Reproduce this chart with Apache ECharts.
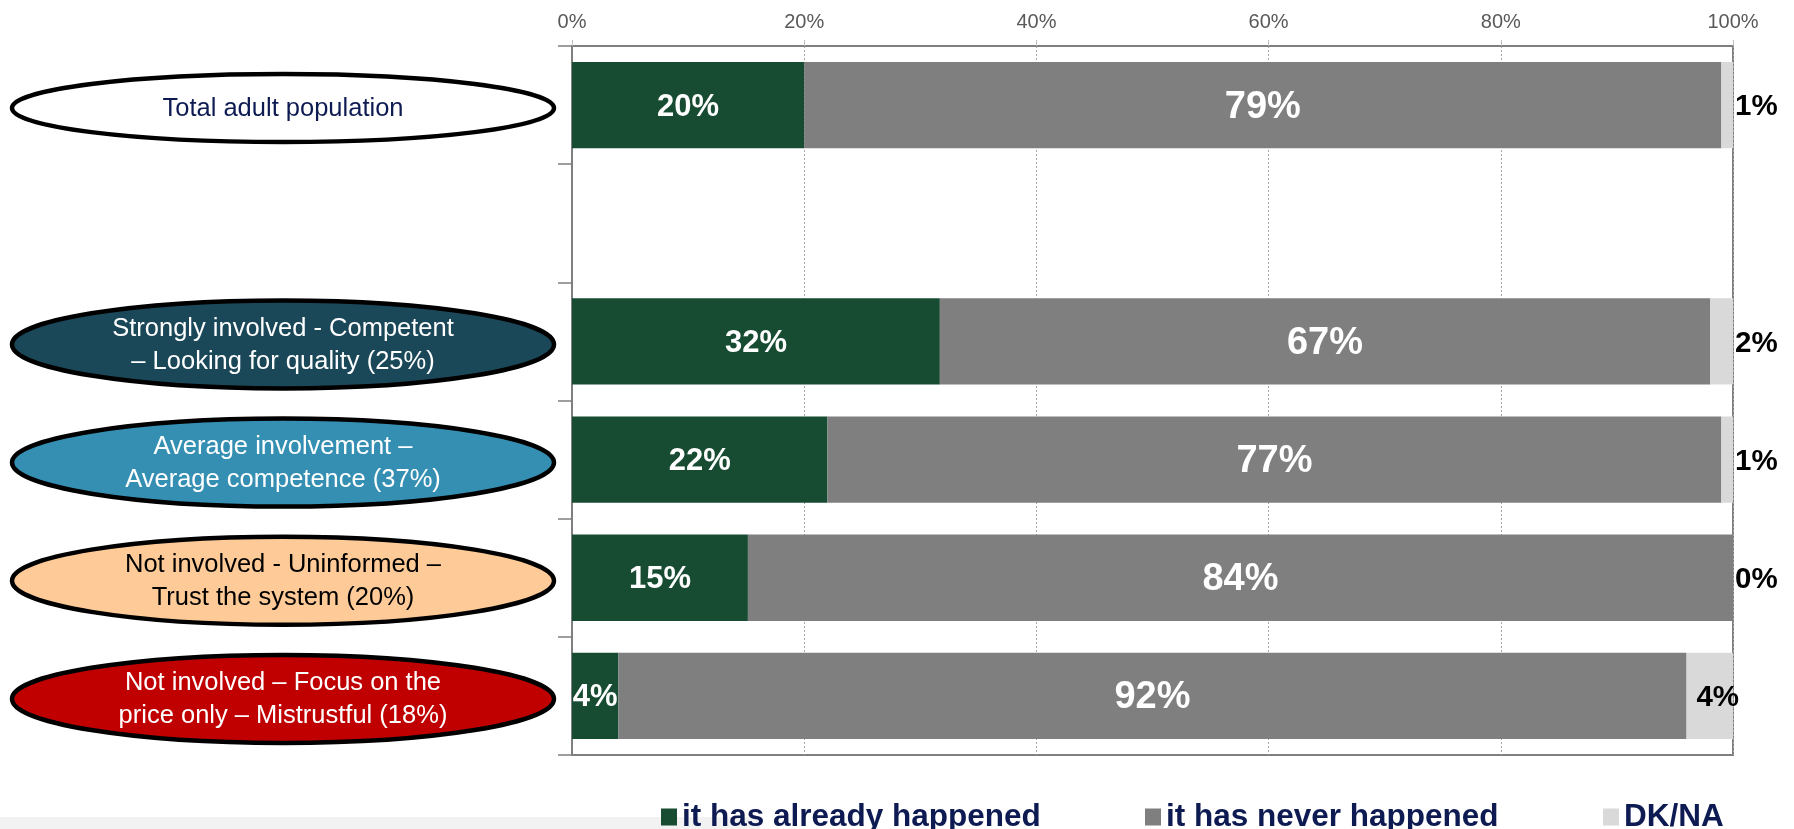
<!DOCTYPE html>
<html>
<head>
<meta charset="utf-8">
<script src="https://cdn.jsdelivr.net/npm/echarts@6/dist/echarts.min.js"></script>
<style>
  html, body { margin: 0; padding: 0; background: #ffffff; }
  #chart { width: 1794px; height: 829px; }
</style>
</head>
<body>
<div id="chart"></div>
<script>
// Segments, top to bottom (the blank entry leaves a gap under the total)
const categories = [
  'Total adult population',
  '',
  'Strongly involved - Competent\n– Looking for quality (25%)',
  'Average involvement –\nAverage competence (37%)',
  'Not involved - Uninformed –\nTrust the system (20%)',
  'Not involved – Focus on the\nprice only – Mistrustful (18%)'
];
const segmentFill = ['#ffffff', null, '#1b4859', '#348fb3', '#fdca98', '#c00000'];
const segmentInk = ['#0d1b52', null, '#ffffff', '#ffffff', '#000000', '#ffffff'];

// Answers in percent
const seriesNames = ['it has already happened', 'it has never happened', 'DK/NA'];
const alreadyHappened = [20, null, 32, 22, 15, 4];
const neverHappened = [79, null, 67, 77, 84, 92];
const dkNa = [1, null, 2, 1, 0, 4];

// Percentage axis
const axisMin = 0, axisMax = 100, axisStep = 20;

// 100% stacked: each row is scaled to its own total, labels keep the stated values
const rowTotal = categories.map((_, i) =>
  alreadyHappened[i] == null ? null : alreadyHappened[i] + neverHappened[i] + dkNa[i]);
function shares(values, extra) {
  return values.map((v, i) => {
    if (v == null) return null;
    const item = { value: v / rowTotal[i] * 100, raw: v };
    if (extra && extra[i]) Object.assign(item, extra[i]);
    return item;
  });
}

const FONT = '"Liberation Sans", Arial, sans-serif';
const pctLabel = p => p.data.raw + '%';

const chart = echarts.init(document.getElementById('chart'), null, { renderer: 'canvas' });

// One legend block per series so each entry sits at its own spot
const legendLeft = [656, 1140, 1598];
const legends = seriesNames.map((name, i) => ({
  left: legendLeft[i], top: 796,
  icon: 'rect', itemWidth: 16, itemHeight: 17,
  selectedMode: false,
  textStyle: { fontFamily: FONT, fontSize: 31.5, fontWeight: 'bold', color: '#0d1b52' },
  data: [name]
}));

const option = {
  backgroundColor: '#ffffff',
  animation: false,
  grid: {
    left: 572, right: 61, top: 46, bottom: 74,
    show: true, borderColor: '#7f7f7f', borderWidth: 2, backgroundColor: 'transparent'
  },
  legend: legends,
  xAxis: {
    type: 'value', position: 'top',
    min: axisMin, max: axisMax, interval: axisStep,
    axisLine: { show: true, lineStyle: { color: '#7f7f7f', width: 2 } },
    axisTick: { show: true, length: 6, lineStyle: { color: '#bfbfbf' } },
    axisLabel: { formatter: '{value}%', color: '#595959', fontFamily: FONT, fontSize: 20, margin: 14 },
    splitLine: { show: true, lineStyle: { color: '#a6a6a6', width: 1, type: [2, 2] } }
  },
  yAxis: {
    type: 'category', inverse: true, data: categories,
    axisLine: { show: true, lineStyle: { color: '#7f7f7f', width: 2 } },
    axisTick: { show: true, length: 14, interval: 0, lineStyle: { color: '#7f7f7f', width: 1.5 } },
    axisLabel: { show: false }
  },
  series: [
    {
      name: seriesNames[0], type: 'bar', stack: 'all', barCategoryGap: '27%',
      itemStyle: { color: '#174c32' },
      label: { show: true, position: 'inside', offset: [0, 2], formatter: pctLabel, color: '#ffffff',
               fontFamily: FONT, fontWeight: 'bold', fontSize: 31 },
      data: shares(alreadyHappened)
    },
    {
      name: seriesNames[1], type: 'bar', stack: 'all',
      itemStyle: { color: '#7f7f7f' },
      label: { show: true, position: 'inside', offset: [0, 2], formatter: pctLabel, color: '#ffffff',
               fontFamily: FONT, fontWeight: 'bold', fontSize: 38 },
      data: shares(neverHappened)
    },
    {
      name: seriesNames[2], type: 'bar', stack: 'all',
      itemStyle: { color: '#d9d9d9' },
      label: { show: true, position: 'right', distance: 2, offset: [0, 2], formatter: pctLabel, color: '#000000',
               fontFamily: FONT, fontWeight: 'bold', fontSize: 29.5 },
      data: shares(dkNa, { 5: { label: { position: 'inside', offset: [8, 2] } } })
    }
  ]
};

chart.setOption(option);

// Oval segment badges beside each bar
const badges = [
  { type: 'rect', z: -1, shape: { x: 0, y: 817, width: 760, height: 12 }, style: { fill: '#f2f2f2' } }
];
categories.forEach((name, i) => {
  if (!segmentFill[i]) return;
  const cy = chart.convertToPixel({ yAxisIndex: 0 }, i) + 3;
  const twoLines = name.indexOf('\n') >= 0;
  badges.push({
    type: 'ellipse',
    shape: { cx: 283, cy: cy, rx: 271, ry: twoLines ? 44 : 34 },
    style: { fill: segmentFill[i], stroke: '#000000', lineWidth: 4.5 }
  });
  badges.push({
    type: 'text', x: 283, y: cy + 1,
    style: {
      text: name, fill: segmentInk[i], fontFamily: FONT, fontSize: 25.5,
      lineHeight: 33, align: 'center', verticalAlign: 'middle'
    }
  });
});
chart.setOption({ graphic: badges });
</script>
</body>
</html>
